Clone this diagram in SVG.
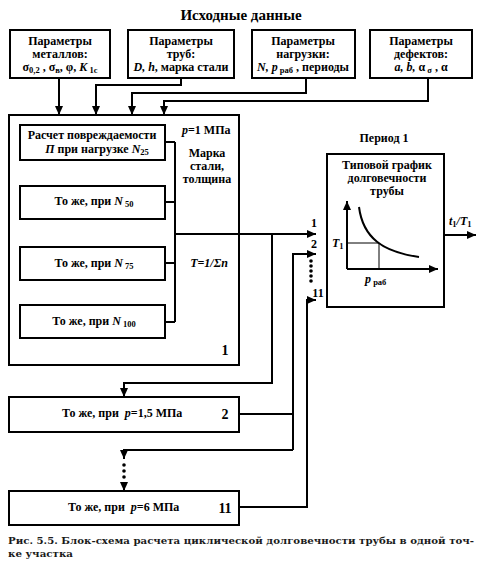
<svg xmlns="http://www.w3.org/2000/svg" width="483" height="563" viewBox="0 0 483 563">
<defs>
<marker id="ar" markerUnits="userSpaceOnUse" markerWidth="10" markerHeight="8" refX="9" refY="4" orient="auto">
<path d="M0,0 L9,4 L0,8 z" fill="#000"/>
</marker>
<style>
.b{fill:#fff;stroke:#000;stroke-width:2}
.t{font-family:"Liberation Serif","Times New Roman",serif;font-weight:bold;font-size:12px;text-anchor:middle;fill:#000}
.l{font-family:"Liberation Serif","Times New Roman",serif;font-weight:bold;font-size:12px;fill:#000}
.c{fill:none;stroke:#000;stroke-width:2}
.th{fill:none;stroke:#000;stroke-width:1}
.s{font-size:8.5px}
.i{font-style:italic}
.cap{font-family:"DejaVu Serif",serif;font-weight:bold;font-size:9.5px;fill:#1a1a1a}
</style>
</defs>
<rect width="483" height="563" fill="#fff"/>
<text x="241" y="20" class="t" style="font-size:15px">Исходные данные</text>

<g id="in-metals">
<rect class="b" x="10" y="30" width="100" height="48"/>
<text class="t" x="60" y="44.5">Параметры</text>
<text class="t" x="60" y="57.5">металлов:</text>
<text class="t" x="60" y="71">σ<tspan class="s" dy="2">0,2</tspan><tspan dy="-2"> , σ</tspan><tspan class="s" dy="2">в</tspan><tspan dy="-2">, φ, </tspan><tspan class="i">K</tspan><tspan class="s" dy="2"> 1c</tspan></text>
</g>
<g id="in-pipes">
<rect class="b" x="128" y="30" width="106" height="48"/>
<text class="t" x="181" y="44.5">Параметры</text>
<text class="t" x="181" y="57.5">труб:</text>
<text class="t" x="181" y="71"><tspan class="i">D, h</tspan>, марка стали</text>
</g>
<g id="in-load">
<rect class="b" x="252" y="30" width="103" height="48"/>
<text class="t" x="303" y="44.5">Параметры</text>
<text class="t" x="303" y="57.5">нагрузки:</text>
<text class="t" x="303" y="71"><tspan class="i">N, p</tspan><tspan class="s" dy="2"> раб</tspan><tspan dy="-2"> , периоды</tspan></text>
</g>
<g id="in-defects">
<rect class="b" x="370" y="30" width="102" height="48"/>
<text class="t" x="421" y="44.5">Параметры</text>
<text class="t" x="421" y="57.5">дефектов:</text>
<text class="t" x="421" y="71"><tspan class="i">a, b,</tspan> α<tspan class="s" dy="2"> σ</tspan><tspan dy="-2"> , α</tspan></text>
</g>

<g id="block1">
<rect class="b" x="9" y="115" width="230" height="250"/>
<text class="l" x="182" y="134"><tspan class="i">p</tspan>=1 МПа</text>
<text class="t" x="207" y="157">Марка</text>
<text class="t" x="207" y="170">стали,</text>
<text class="t" x="207" y="183">толщина</text>
<text class="t i" x="209" y="267">T=1/Σ<tspan class="i">n</tspan></text>
<text class="t" x="225" y="355" style="font-size:14px">1</text>
</g>
<g id="calc-n25">
<rect class="b" x="20" y="125" width="145" height="35"/>
<text class="t" x="92" y="139">Расчет повреждаемости</text>
<text class="t" x="97" y="153"><tspan class="i">П</tspan> при нагрузке <tspan class="i">N</tspan><tspan class="s" dy="2">25</tspan></text>
</g>
<g id="calc-n50">
<rect class="b" x="20" y="186" width="145" height="33"/>
<text class="t" x="94" y="205">То же, при <tspan class="i">N</tspan><tspan class="s" dy="2"> 50</tspan></text>
</g>
<g id="calc-n75">
<rect class="b" x="20" y="247" width="145" height="33"/>
<text class="t" x="94" y="267">То же, при <tspan class="i">N</tspan><tspan class="s" dy="2"> 75</tspan></text>
</g>
<g id="calc-n100">
<rect class="b" x="20" y="305" width="145" height="33"/>
<text class="t" x="94" y="325">То же, при <tspan class="i">N</tspan><tspan class="s" dy="2"> 100</tspan></text>
</g>

<g id="block2">
<rect class="b" x="9" y="397" width="230" height="35"/>
<text class="l" x="62" y="417">То же, при&#160; <tspan class="i">p</tspan>=1,5 МПа</text>
<text class="t" x="225" y="419" style="font-size:14px">2</text>
</g>
<g id="block11">
<rect class="b" x="9" y="491" width="230" height="34"/>
<text class="l" x="68" y="511">То же, при&#160; <tspan class="i">p</tspan>=6 МПа</text>
<text class="t" x="225" y="513" style="font-size:14px">11</text>
</g>

<g id="period1">
<text class="t" x="384" y="142">Период 1</text>
<rect class="b" x="327" y="154" width="117" height="153"/>
<text class="t" x="387" y="169">Типовой график</text>
<text class="t" x="387" y="182">долговечности</text>
<text class="t" x="387" y="195">трубы</text>
<path class="th" d="M347,243 H379 V269"/>
<path class="c" d="M347,269 V201" marker-end="url(#ar)"/>
<path class="c" d="M347,269 H438" marker-end="url(#ar)"/>
<path class="c" d="M359,207 C363,238 383,252 419,257"/>
<text class="l i" x="332" y="247">T<tspan class="s" dy="2" style="font-style:normal">1</tspan></text>
<text class="l" x="365" y="283"><tspan class="i">p</tspan><tspan class="s" dy="2"> раб</tspan></text>
</g>

<g id="connectors">
<path class="c" d="M59,78 V115" marker-end="url(#ar)"/>
<path class="c" d="M181,78 V85 H96 V115" marker-end="url(#ar)"/>
<path class="c" d="M306,78 V93 H132 V115" marker-end="url(#ar)"/>
<path class="c" d="M428,78 V101 H164 V115" marker-end="url(#ar)"/>
<path class="c" d="M165,142 H175 M165,202 H175 M165,263 H175 M165,322 H175 M175,142 V322"/>
<path class="c" d="M175,234 H316" marker-end="url(#ar)"/>
<path class="c" d="M272,234 V383 H124 V397" marker-end="url(#ar)"/>
<path class="c" d="M239,414 H293"/>
<path class="c" d="M293,450 V254 H316" marker-end="url(#ar)"/>
<path class="c" d="M293,450 H124 V459" marker-end="url(#ar)"/>
<path class="c" d="M124,483 V491" marker-end="url(#ar)"/>
<path class="c" d="M239,507 H307 V300 H316" marker-end="url(#ar)"/>
<path class="c" d="M444,235 H476" marker-end="url(#ar)"/>
<g fill="#000">
<circle cx="124" cy="465" r="1.8"/><circle cx="124" cy="471" r="1.8"/><circle cx="124" cy="477" r="1.8"/>
<circle cx="311" cy="261" r="1.8"/><circle cx="311" cy="266" r="1.8"/><circle cx="311" cy="271" r="1.8"/><circle cx="311" cy="276" r="1.8"/><circle cx="311" cy="281" r="1.8"/>
</g>
<text class="t" x="314" y="227">1</text>
<text class="t" x="314" y="248">2</text>
<text class="t" x="318" y="297">11</text>
<text class="l" x="449" y="225"><tspan class="i">t</tspan><tspan class="s" dy="2">1</tspan><tspan dy="-2" class="i">/T</tspan><tspan class="s" dy="2">1</tspan></text>
</g>

<text class="cap" x="8" y="544" textLength="466" lengthAdjust="spacingAndGlyphs">Рис. 5.5. Блок-схема расчета циклической долговечности трубы в одной точ-</text>
<text class="cap" x="8" y="557" textLength="65" lengthAdjust="spacingAndGlyphs">ке участка</text>
</svg>
